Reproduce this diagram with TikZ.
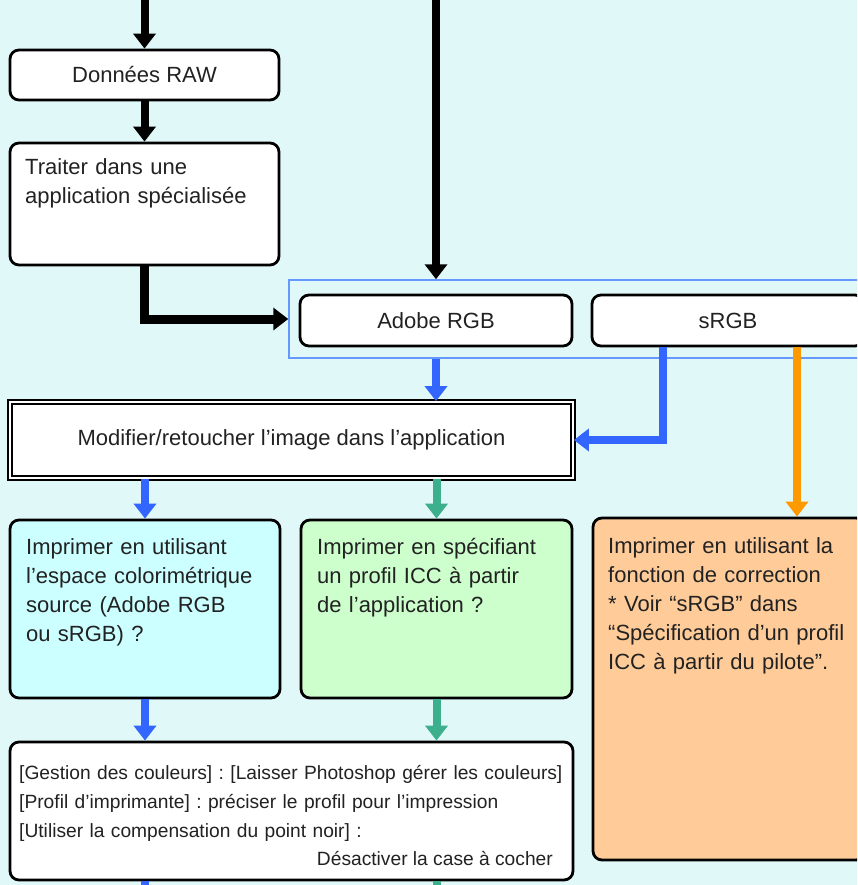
\documentclass[tikz,border=0pt]{standalone}
\usepackage{fontspec}
\setmainfont{Liberation Sans}
\frenchspacing
\usetikzlibrary{arrows.meta, positioning, calc}
\definecolor{bgcyan}{HTML}{E0F8F8}
\definecolor{txtgray}{HTML}{222222}
\definecolor{arrblue}{HTML}{3366FF}
\definecolor{arrgreen}{HTML}{3CB08C}
\definecolor{arrorange}{HTML}{FF9900}
\definecolor{frameblue}{HTML}{6699FF}
\definecolor{fillcyan}{HTML}{CCFFFF}
\definecolor{fillgreen}{HTML}{CCFFCC}
\definecolor{fillorange}{HTML}{FFCC99}

\begin{document}
\begin{tikzpicture}[
  x=1pt, y=-1pt,
  >={Triangle[length=15pt, width=22pt]},
  box/.style={
    draw=black, line width=2.8pt, fill=#1, rounded corners=9pt,
    inner sep=0pt, text=txtgray, font=\fontsize{22}{29}\selectfont
  },
  box/.default=white,
  txt/.style={
    anchor=north west, inner sep=0pt, align=left, text=txtgray,
    font=\fontsize{22}{29}\selectfont
  },
  flow/.style={->, line width=8pt, #1},
]

% Background
\useasboundingbox (0,0) rectangle (857,885);
\fill[bgcyan] (0,0) rectangle (857,885);
\clip (0,0) rectangle (857,885);

% =============================================
% Left column: RAW
% =============================================
\coordinate (inA) at (144.5,0);
\node[box, minimum width=269pt, minimum height=50pt] (raw) at (144.5,75)
  {Données RAW};

\node[box, minimum width=269pt, minimum height=122pt] (proc) at (144.5,204) {};
\node[txt, text width=250pt] (proctxt) at (25,158.5)
  {Traiter dans une\\application spécialisée};

\draw[flow=black] (inA) -- (raw.north);
\draw[flow=black] (raw) -- (proc);

% =============================================
% Colour space choice
% =============================================
\coordinate (inB) at (436,0);
\node[draw=frameblue, line width=1.5pt, minimum width=581pt, minimum height=78pt,
      inner sep=0pt] (frame) at (579.5,319) {};

\node[box, minimum width=272pt, minimum height=51pt] (adobe) at (436,320.5)
  {Adobe RGB};
\node[box, minimum width=272pt, minimum height=51pt] (srgb) at (728,320.5)
  {sRGB};

\draw[flow=black, line width=9pt] (proc.south) |- (frame.west);
\draw[flow=black] (inB) -- (inB |- frame.north);

% =============================================
% Edit in application
% =============================================
\node[draw=black, line width=1.8pt, double=white, double distance=2.5pt,
      fill=white, minimum width=563pt, minimum height=76pt, text=txtgray,
      font=\fontsize{22}{29}\selectfont] (modif) at (291.5,440)
  {Modifier/retoucher l'image dans l'application};

\draw[flow=arrblue] (adobe.south |- frame.south) -- (adobe.south |- modif.north);
\draw[flow=arrblue] ([xshift=-65pt]srgb.south) |- (modif.east);

% =============================================
% Three printing paths
% =============================================
\node[box=fillcyan, minimum width=270pt, minimum height=178pt] (cyan) at (145,609) {};
\node[txt, text width=248pt] (cyantxt) at (26,538.5)
  {Imprimer en utilisant\\l'espace colorimétrique\\source (Adobe RGB\\ou sRGB) ?};

\node[box=fillgreen, minimum width=271pt, minimum height=178pt] (green) at (436.5,609) {};
\node[txt, text width=248pt] (greentxt) at (317,538)
  {Imprimer en spécifiant\\un profil ICC à partir\\de l'application ?};

\node[box=fillorange, minimum width=272pt, minimum height=342pt] (orange) at (729,689) {};
\node[txt, text width=250pt] (orangetxt) at (608,537)
  {Imprimer en utilisant la\\fonction de correction\\{*} Voir “sRGB” dans\\“Spécification d'un profil\\ICC à partir du pilote”.};

\draw[flow=arrblue] (cyan.north |- modif.south) -- (cyan.north);
\draw[flow=arrgreen] (green.north |- modif.south) -- (green.north);
\draw[flow=arrorange] ([xshift=69pt]srgb.south) -- ([xshift=69pt]srgb.south |- orange.north);

% =============================================
% Photoshop settings
% =============================================
\node[box, minimum width=563pt, minimum height=138pt] (settings) at (291.5,811) {};
\node[txt, text width=552pt, font=\fontsize{19.2}{29}\selectfont] (settxt) at (19,765)
  {{[}Gestion des couleurs] : [Laisser Photoshop gérer les couleurs]\\
   {[}Profil d'imprimante] : préciser le profil pour l'impression\\
   {[}Utiliser la compensation du point noir] :};
\node[anchor=base east, inner sep=0pt, text=txtgray,
      font=\fontsize{19.2}{29}\selectfont] (settxt2) at (553,865)
  {Désactiver la case à cocher};

\draw[flow=arrblue] (cyan.south) -- (cyan.south |- settings.north);
\draw[flow=arrgreen] (green.south) -- (green.south |- settings.north);

% Continuation stubs
\draw[arrblue, line width=8pt] (cyan.south |- settings.south) -- ++(0,12);
\draw[arrgreen, line width=8pt] (green.south |- settings.south) -- ++(0,12);

\end{tikzpicture}
\end{document}
